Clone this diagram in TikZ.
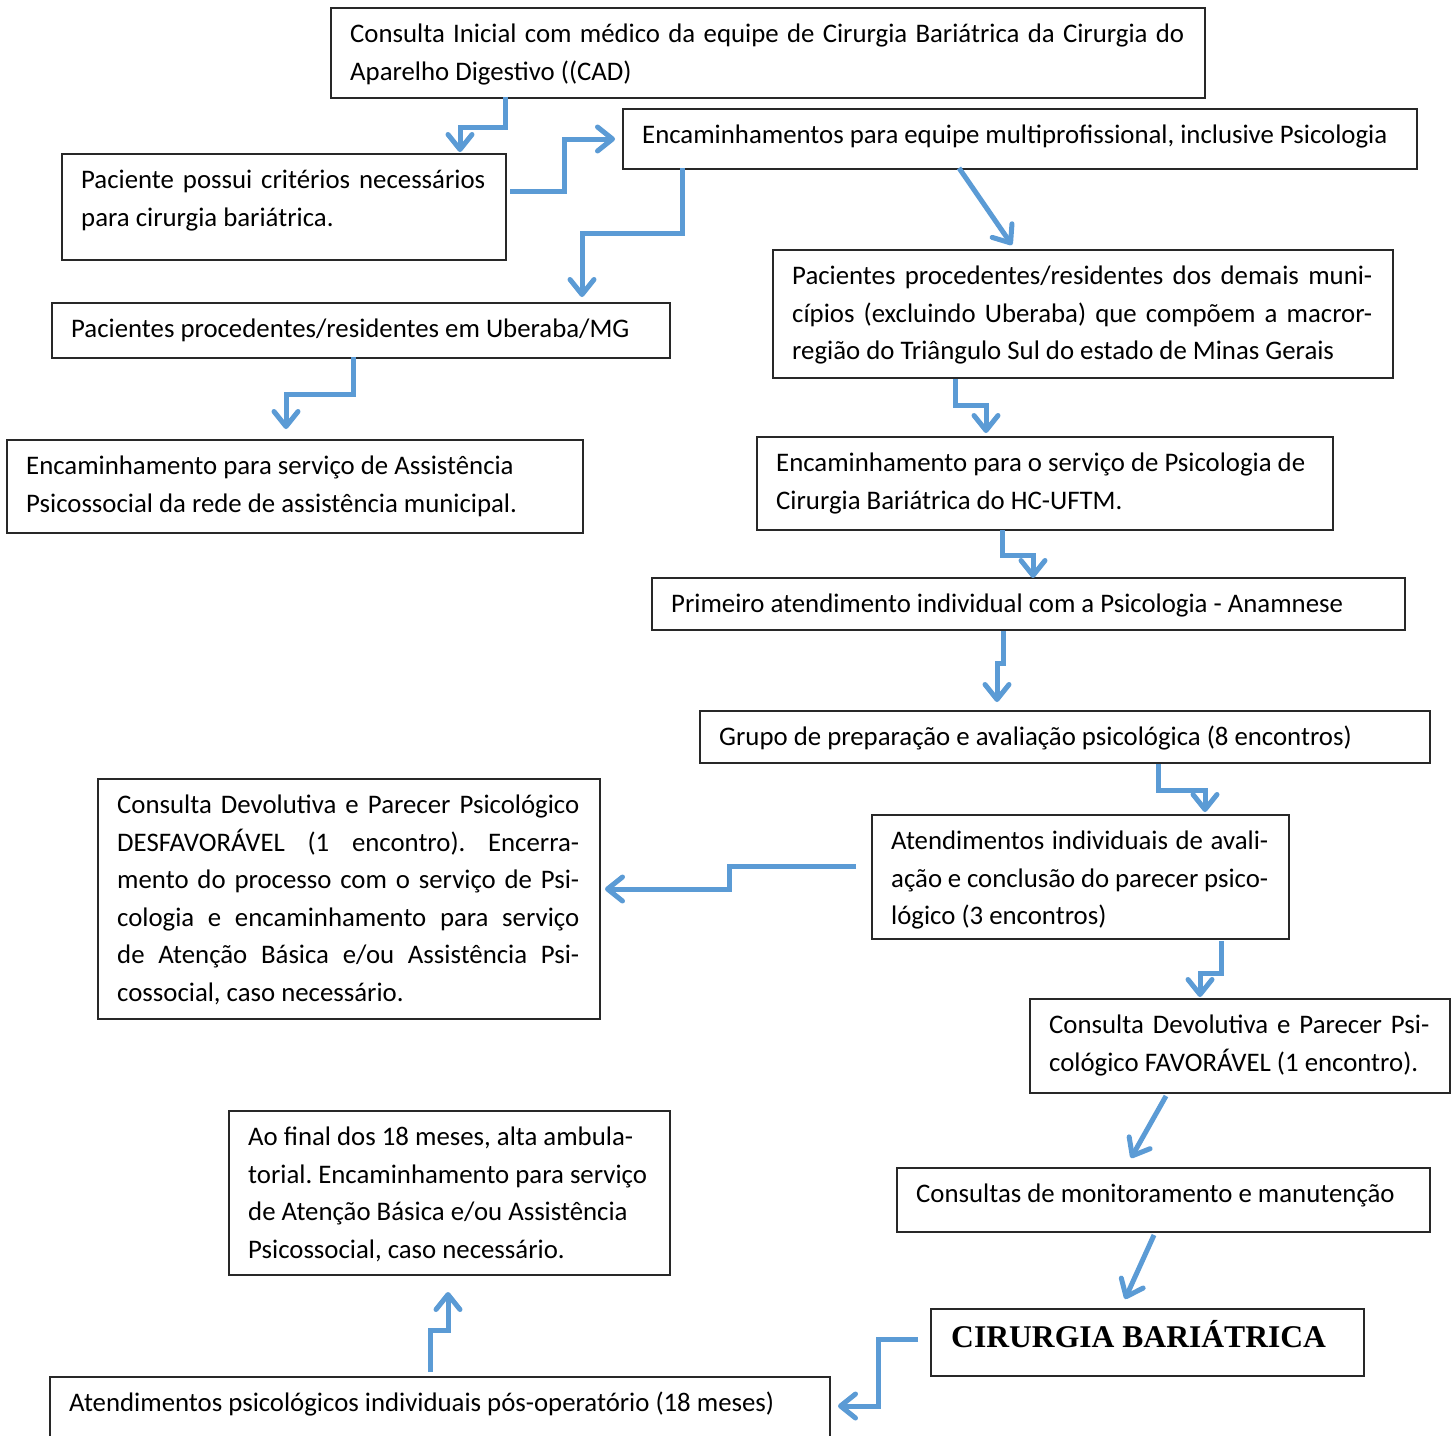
\documentclass[tikz,border=0pt]{standalone}
\usepackage{fontspec}
\setmainfont{Carlito}
\newfontfamily\titlefont{Liberation Serif}
\usetikzlibrary{arrows.meta,calc}
\definecolor{arr}{RGB}{91,155,213}
\definecolor{boxc}{RGB}{40,40,40}
\newcommand\fx{\spaceskip=0pt\xspaceskip=0pt\frenchspacing}
\newcommand\jl[1]{\leavevmode\hbox to\hsize{\fx #1}}
\begin{document}
\begin{tikzpicture}[x=1pt,y=-1pt,
  box/.style={draw=boxc, line width=1.5pt, inner sep=0pt, anchor=north west},
  txt/.style={inner sep=0pt, anchor=north west, align=left,
    font=\fontsize{26.8}{37.5}\selectfont},
  conn/.style={draw=arr, line width=5pt,
    -{Straight Barb[length=15pt,width=24pt,round]}}]
\useasboundingbox[fill=white] (0,0) rectangle (1453,1435);
% boxes
\node[box, minimum width=874pt, minimum height=90pt] (b1) at (330,7) {};
\node[txt, text width=834pt] (t1) at ($(b1.north west)+(20,9.5)$)
 {\fx\strut\jl{Consulta Inicial com médico da equipe de Cirurgia Bariátrica da Cirurgia do}\\Aparelho Digestivo ((CAD)};
\node[box, minimum width=444pt, minimum height=106pt] (b2) at (61,153) {};
\node[txt, text width=404pt] (t2) at ($(b2.north west)+(20,9.5)$)
 {\fx\strut\jl{Paciente possui critérios necessários}\\para cirurgia bariátrica.};
\node[box, minimum width=794pt, minimum height=60pt] (b3) at (622,108) {};
\node[txt, text width=754pt] (t3) at ($(b3.north west)+(20,9.5)$)
 {\fx\strut Encaminhamentos para equipe multiprofissional, inclusive Psicologia};
\node[box, minimum width=618pt, minimum height=55pt] (b4) at (51,302) {};
\node[txt, text width=578pt] (t4) at ($(b4.north west)+(20,9.5)$)
 {\fx\strut Pacientes procedentes/residentes em Uberaba/MG};
\node[box, minimum width=620pt, minimum height=128pt] (b5) at (772,249) {};
\node[txt, text width=580pt] (t5) at ($(b5.north west)+(20,9.5)$)
 {\fx\strut\jl{Pacientes procedentes/residentes dos demais muni-}\\\jl{cípios (excluindo Uberaba) que compõem a macror-}\\região do Triângulo Sul do estado de Minas Gerais};
\node[box, minimum width=576pt, minimum height=93pt] (b6) at (6,439) {};
\node[txt, text width=536pt] (t6) at ($(b6.north west)+(20,9.5)$)
 {\fx\strut Encaminhamento para serviço de Assistência\\Psicossocial da rede de assistência municipal.};
\node[box, minimum width=576pt, minimum height=93pt] (b7) at (756,436) {};
\node[txt, text width=536pt] (t7) at ($(b7.north west)+(20,9.5)$)
 {\fx\strut Encaminhamento para o serviço de Psicologia de\\Cirurgia Bariátrica do HC-UFTM.};
\node[box, minimum width=753pt, minimum height=52pt] (b8) at (651,577) {};
\node[txt, text width=713pt] (t8) at ($(b8.north west)+(20,9.5)$)
 {\fx\strut Primeiro atendimento individual com a Psicologia - Anamnese};
\node[box, minimum width=730pt, minimum height=52pt] (b9) at (699,710) {};
\node[txt, text width=690pt] (t9) at ($(b9.north west)+(20,9.5)$)
 {\fx\strut Grupo de preparação e avaliação psicológica (8 encontros)};
\node[box, minimum width=502pt, minimum height=240pt] (b10) at (97,778) {};
\node[txt, text width=462pt] (t10) at ($(b10.north west)+(20,9.5)$)
 {\fx\strut\jl{Consulta Devolutiva e Parecer Psicológico}\\\jl{DESFAVORÁVEL (1 encontro). Encerra-}\\\jl{mento do processo com o serviço de Psi-}\\\jl{cologia e encaminhamento para serviço}\\\jl{de Atenção Básica e/ou Assistência Psi-}\\cossocial, caso necessário.};
\node[box, minimum width=417pt, minimum height=124pt] (b11) at (871,814) {};
\node[txt, text width=377pt] (t11) at ($(b11.north west)+(20,9.5)$)
 {\fx\strut\jl{Atendimentos individuais de avali-}\\\jl{ação e conclusão do parecer psico-}\\lógico (3 encontros)};
\node[box, minimum width=420pt, minimum height=94pt] (b12) at (1029,998) {};
\node[txt, text width=380pt] (t12) at ($(b12.north west)+(20,9.5)$)
 {\fx\strut\jl{Consulta Devolutiva e Parecer Psi-}\\cológico FAVORÁVEL (1 encontro).};
\node[box, minimum width=533pt, minimum height=64pt] (b13) at (896,1167) {};
\node[txt, text width=493pt] (t13) at ($(b13.north west)+(20,9.5)$)
 {\fx\strut Consultas de monitoramento e manutenção};
\node[box, minimum width=433pt, minimum height=67pt] (b14) at (930,1308) {};
\node[txt, text width=400pt, font=\titlefont\bfseries\fontsize{31.6}{40}\selectfont] (t14) at ($(b14.north west)+(21,12)$)
 {\fx CIRURGIA BARIÁTRICA};
\node[box, minimum width=441pt, minimum height=164pt] (b15) at (228,1110) {};
\node[txt, text width=401pt] (t15) at ($(b15.north west)+(20,9.5)$)
 {\fx\strut Ao final dos 18 meses, alta ambula-\\torial. Encaminhamento para serviço\\de Atenção Básica e/ou Assistência\\Psicossocial, caso necessário.};
\node[box, minimum width=780pt, minimum height=72pt] (b16) at (49,1376) {};
\node[txt, text width=740pt] (t16) at ($(b16.north west)+(20,9.5)$)
 {\fx\strut Atendimentos psicológicos individuais pós-operatório (18 meses)};
% connectors
\coordinate (s1) at (505,97);   \coordinate (e1) at (460,152);
\coordinate (s2) at (510,191);  \coordinate (e2) at (615,139);
\coordinate (s3) at (682,168);  \coordinate (e3) at (582,297);
\coordinate (s4) at (959,168);  \coordinate (e4) at (1012,245);
\coordinate (s5) at (353,357);  \coordinate (e5) at (286,429);
\coordinate (s6) at (955,379);  \coordinate (e6) at (986,433);
\coordinate (s7) at (1002,530); \coordinate (e7) at (1033,578);
\coordinate (s8) at (1003,631); \coordinate (e8) at (997,702);
\coordinate (s9) at (1158,764); \coordinate (e9) at (1205,812);
\coordinate (s10) at (856,866); \coordinate (e10) at (605,889);
\coordinate (s11) at (1221,941); \coordinate (e11) at (1200,997);
\coordinate (s12) at (1166,1096); \coordinate (e12) at (1131,1158);
\coordinate (s13) at (1154,1235); \coordinate (e13) at (1125,1299);
\coordinate (s14) at (918,1339); \coordinate (e14) at (838,1406);
\coordinate (s15) at (430,1372); \coordinate (e15) at (448,1292);
\draw[conn] (s1) |- (460,127) -- (e1);
\draw[conn] (s2) -| (564,139) -- (e2);
\draw[conn] (s3) |- (582,233) -- (e3);
\draw[conn] (s4) -- (e4);
\draw[conn] (s5) |- (286,394) -- (e5);
\draw[conn] (s6) |- (986,405) -- (e6);
\draw[conn] (s7) |- (1033,555) -- (e7);
\draw[conn] (s8) |- (997,663) -- (e8);
\draw[conn] (s9) |- (1205,790) -- (e9);
\draw[conn] (s10) -| (729,889) -- (e10);
\draw[conn] (s11) |- (1200,973) -- (e11);
\draw[conn] (s12) -- (e12);
\draw[conn] (s13) -- (e13);
\draw[conn] (s14) -| (878,1406) -- (e14);
\draw[conn] (s15) |- (448,1330) -- (e15);
\end{tikzpicture}
\end{document}
